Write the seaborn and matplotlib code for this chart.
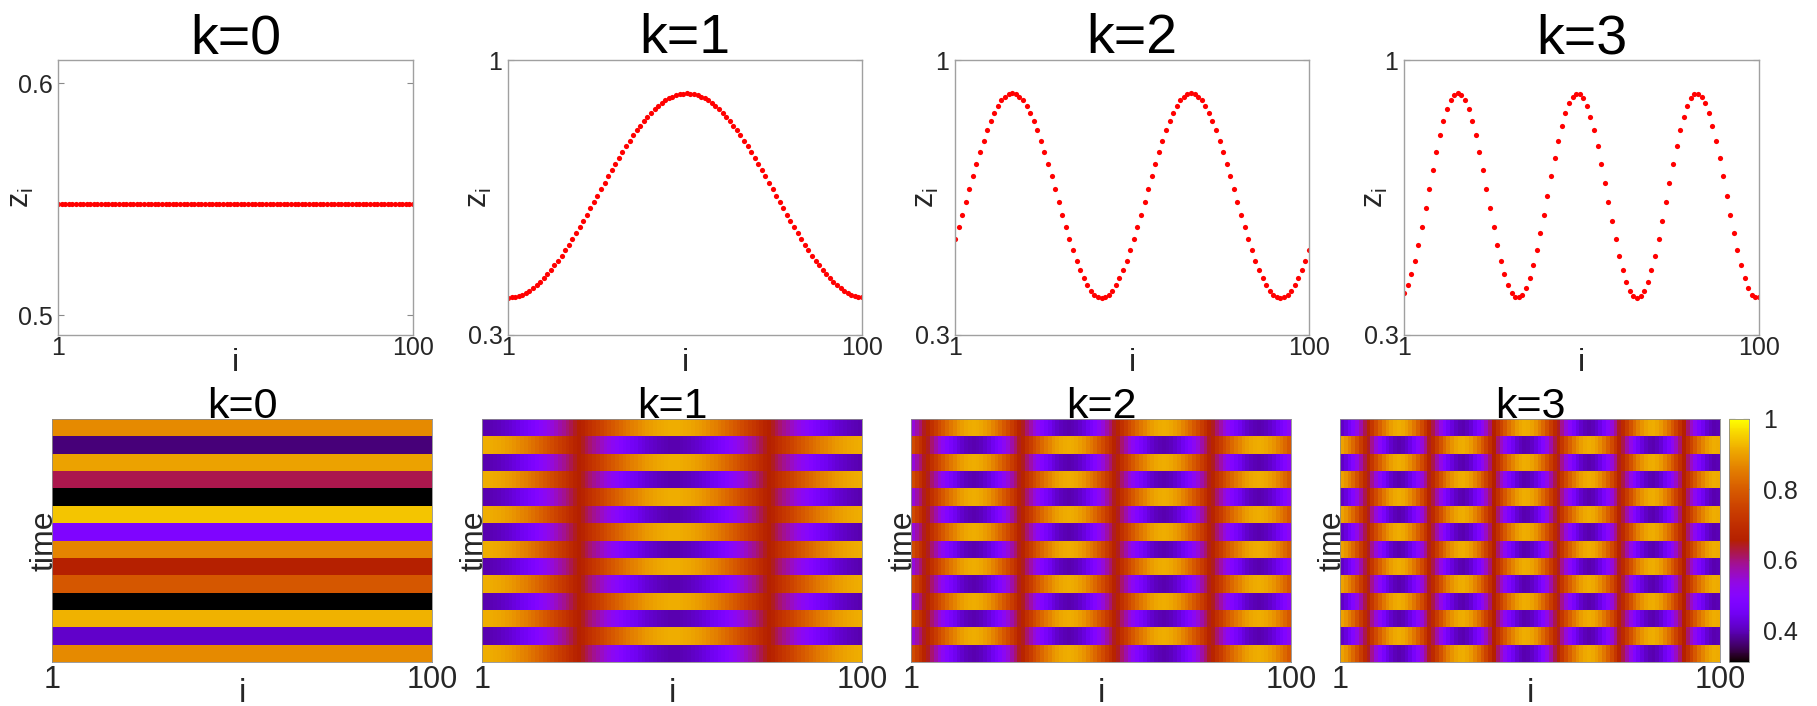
import numpy as np
import matplotlib
matplotlib.use("Agg")
import matplotlib.pyplot as plt
import seaborn as sns

# ---------------------------------------------------------------------------
# data
# ---------------------------------------------------------------------------
# node index along the ring
node_index = list(range(1, 101))

# spatially uniform state (k=0)
z_k0_level = 0.548

# stationary profiles z_i for wave numbers k=1..3
z_k1 = [
    0.395, 0.396, 0.397, 0.400, 0.403, 0.408, 0.413, 0.420, 0.427, 0.436,
    0.445, 0.455, 0.466, 0.477, 0.489, 0.502, 0.516, 0.530, 0.544, 0.559,
    0.575, 0.590, 0.606, 0.622, 0.639, 0.655, 0.671, 0.688, 0.704, 0.720,
    0.735, 0.751, 0.766, 0.780, 0.794, 0.808, 0.821, 0.833, 0.845, 0.855,
    0.865, 0.875, 0.883, 0.890, 0.897, 0.902, 0.907, 0.910, 0.913, 0.914,
    0.915, 0.914, 0.913, 0.910, 0.907, 0.902, 0.897, 0.890, 0.883, 0.875,
    0.865, 0.855, 0.845, 0.833, 0.821, 0.808, 0.794, 0.780, 0.766, 0.751,
    0.735, 0.720, 0.704, 0.688, 0.671, 0.655, 0.639, 0.622, 0.606, 0.590,
    0.575, 0.559, 0.544, 0.530, 0.516, 0.502, 0.489, 0.477, 0.466, 0.455,
    0.445, 0.436, 0.427, 0.420, 0.413, 0.408, 0.403, 0.400, 0.397, 0.396,
]
z_k2 = [
    0.544, 0.575, 0.606, 0.639, 0.671, 0.704, 0.735, 0.766, 0.794, 0.821,
    0.845, 0.865, 0.883, 0.897, 0.907, 0.913, 0.915, 0.913, 0.907, 0.897,
    0.883, 0.865, 0.845, 0.821, 0.794, 0.766, 0.735, 0.704, 0.671, 0.639,
    0.606, 0.575, 0.544, 0.516, 0.489, 0.466, 0.445, 0.427, 0.413, 0.403,
    0.397, 0.395, 0.397, 0.403, 0.413, 0.427, 0.445, 0.466, 0.489, 0.516,
    0.544, 0.575, 0.606, 0.639, 0.671, 0.704, 0.735, 0.766, 0.794, 0.821,
    0.845, 0.865, 0.883, 0.897, 0.907, 0.913, 0.915, 0.913, 0.907, 0.897,
    0.883, 0.865, 0.845, 0.821, 0.794, 0.766, 0.735, 0.704, 0.671, 0.639,
    0.606, 0.575, 0.544, 0.516, 0.489, 0.466, 0.445, 0.427, 0.413, 0.403,
    0.397, 0.395, 0.397, 0.403, 0.413, 0.427, 0.445, 0.466, 0.489, 0.516,
]
z_k3 = [
    0.408, 0.427, 0.455, 0.489, 0.530, 0.575, 0.622, 0.671, 0.720, 0.766,
    0.808, 0.845, 0.875, 0.897, 0.910, 0.915, 0.910, 0.897, 0.875, 0.845,
    0.808, 0.766, 0.720, 0.671, 0.622, 0.575, 0.530, 0.489, 0.455, 0.427,
    0.408, 0.397, 0.396, 0.403, 0.420, 0.445, 0.477, 0.516, 0.559, 0.606,
    0.655, 0.704, 0.751, 0.794, 0.833, 0.865, 0.890, 0.907, 0.914, 0.913,
    0.902, 0.883, 0.855, 0.821, 0.780, 0.735, 0.688, 0.639, 0.590, 0.544,
    0.502, 0.466, 0.436, 0.413, 0.400, 0.395, 0.400, 0.413, 0.436, 0.466,
    0.502, 0.544, 0.590, 0.639, 0.688, 0.735, 0.780, 0.821, 0.855, 0.883,
    0.902, 0.913, 0.914, 0.907, 0.890, 0.865, 0.833, 0.794, 0.751, 0.704,
    0.655, 0.606, 0.559, 0.516, 0.477, 0.445, 0.420, 0.403, 0.396, 0.397,
]

# k=0 space-time plot: every time step is spatially uniform
k0_time_levels = [0.872, 0.364, 0.901, 0.620, 0.300, 0.943, 0.482,
                  0.863, 0.655, 0.790, 0.300, 0.920, 0.410, 0.872]

# period-2 oscillation for k>=1: even steps show the profile,
# odd steps its reflection about the midpoint value
oscillation_centre = 0.655
n_time_steps = 14

titles = ["k=0", "k=1", "k=2", "k=3"]
colour_limits = (0.31, 1.0)
colourbar_ticks = [0.4, 0.6, 0.8, 1.0]
colourbar_labels = ["0.4", "0.6", "0.8", "1"]

# ---------------------------------------------------------------------------
# derived tables
# ---------------------------------------------------------------------------
profiles = [[z_k0_level] * len(node_index), z_k1, z_k2, z_k3]

space_time = [np.repeat(np.array(k0_time_levels)[:, None], len(node_index), axis=1)]
for prof in (z_k1, z_k2, z_k3):
    p = np.array(prof)
    rows = [p if t % 2 == 0 else 2 * oscillation_centre - p for t in range(n_time_steps)]
    space_time.append(np.vstack(rows))

# ---------------------------------------------------------------------------
# figure
# ---------------------------------------------------------------------------
sns.set_theme(style="white")
plt.rcParams["font.family"] = ["Liberation Sans", "DejaVu Sans"]
plt.rcParams["mathtext.fontset"] = "custom"
plt.rcParams["mathtext.rm"] = "Liberation Sans"
plt.rcParams["mathtext.it"] = "Liberation Sans:italic"

W, H = 1817, 706
fig = plt.figure(figsize=(W / 100, H / 100), dpi=100)
fig.patch.set_facecolor("white")


def px_axes(left, top, width, height):
    return fig.add_axes([left / W, 1 - (top + height) / H, width / W, height / H])


TXT = "#262626"
FRAME = "#a0a0a0"

# upper row: profiles z_i
top_left = [58, 508, 955, 1404]
top_width = [355, 354, 354, 355]
for idx, (prof, title) in enumerate(zip(profiles, titles)):
    ax = px_axes(top_left[idx], 60, top_width[idx], 275)
    sns.scatterplot(x=node_index, y=prof, color="#ff0000", s=14,
                    linewidth=0, ax=ax, legend=False)
    ax.set_xlim(1, 100)
    if idx == 0:
        ax.set_ylim(0.4914, 0.6101)
        ax.set_yticks([0.5, 0.6])
        ax.set_yticklabels(["0.5", "0.6"])
        ylab_x = -0.062
    else:
        ax.set_ylim(0.3, 1.0)
        ax.set_yticks([0.3, 1.0])
        ax.set_yticklabels(["0.3", "1"])
        ylab_x = -0.04
    ax.set_xticks([1, 100])
    ax.set_xticklabels(["1", "100"])
    ax.tick_params(axis="x", length=0, pad=1, labelsize=18, labelcolor=TXT)
    ax.tick_params(axis="y", direction="in", length=4, width=0.8,
                   left=True, right=True, labelsize=18, pad=4,
                   color="#8a8a8a", labelcolor=TXT)
    for s in ax.spines.values():
        s.set_visible(True)
        s.set_color(FRAME)
        s.set_linewidth(1.0)
    ax.set_xlabel("i", fontsize=23, color=TXT)
    ax.xaxis.set_label_coords(0.5, -0.047)
    ax.set_ylabel(r"$\mathrm{z}_\mathrm{i}$", fontsize=22, color=TXT)
    ax.yaxis.set_label_coords(ylab_x, 0.5)
    ax.set_title(title, fontsize=40, pad=5, color="black")

# lower row: space-time plots
bottom_left = [52, 482, 911, 1340]
cax = px_axes(1729, 419, 20, 243)
for idx, (mat, title) in enumerate(zip(space_time, titles)):
    ax = px_axes(bottom_left[idx], 419, 380, 243)
    last = idx == len(space_time) - 1
    sns.heatmap(mat, cmap="gnuplot", vmin=colour_limits[0], vmax=colour_limits[1],
                ax=ax, cbar=last, cbar_ax=cax if last else None,
                xticklabels=False, yticklabels=False)
    ax.set_xticks([0, mat.shape[1]])
    ax.set_xticklabels(["1", "100"], rotation=0)
    ax.set_yticks([])
    ax.tick_params(axis="x", length=0, pad=2, labelsize=22, labelcolor=TXT)
    for s in ax.spines.values():
        s.set_visible(True)
        s.set_color("#8c8c8c")
        s.set_linewidth(0.6)
    ax.set_xlabel("i", fontsize=24, color=TXT)
    ax.xaxis.set_label_coords(0.5, -0.066)
    ax.set_ylabel("time", fontsize=23, color=TXT)
    ax.yaxis.set_label_coords(0.02, 0.5)
    ax.set_title(title, fontsize=31, pad=1, color="black")
    if last:
        cbar = ax.collections[0].colorbar
        cbar.set_ticks(colourbar_ticks)
        cbar.set_ticklabels(colourbar_labels)
        cbar.outline.set_edgecolor("#8c8c8c")
        cbar.outline.set_linewidth(0.6)
        cax.tick_params(direction="in", length=4, width=0.8, left=True, right=True,
                        labelleft=False, labelright=True, labelsize=18, pad=10,
                        color="#333333", labelcolor=TXT)

fig.savefig("out.png", dpi=100, facecolor="white")
